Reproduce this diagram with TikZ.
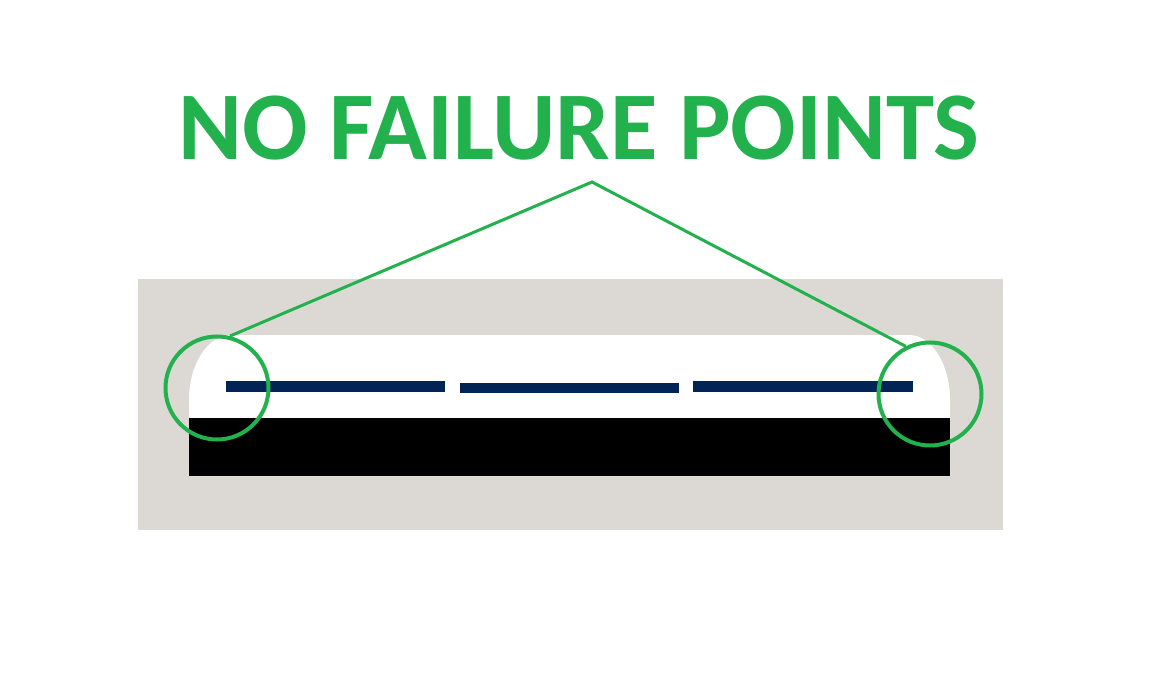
\documentclass[tikz,border=0pt]{standalone}
\usepackage{fontspec}
\setmainfont{Carlito}
\definecolor{pgreen}{HTML}{22B14C}
\definecolor{pgray}{HTML}{DCD9D4}
\definecolor{pnavy}{HTML}{002456}
\tikzset{
  ring/.style={circle, draw=pgreen, line width=4pt, minimum size=103pt, inner sep=0pt},
  leader/.style={draw=pgreen, line width=3pt},
  dashbar/.style={fill=pnavy, draw=none},
}
\begin{document}
\begin{tikzpicture}[x=1pt,y=-1pt]
\useasboundingbox (0,0) rectangle (1163,682);
\fill[white] (0,0) rectangle (1163,682);
% gray frame
\fill[pgray] (138,279) rectangle (1003,530);
% white cavity with rounded top corners
\fill[white] (189,476) -- (189,400) arc[start angle=180, end angle=90, x radius=42pt, y radius=65pt]
  -- (909,335) arc[start angle=90, end angle=0, x radius=41pt, y radius=65pt] -- (950,476) -- cycle;
% black base
\fill[black] (189,418) rectangle (950,476);
% navy dashes
\fill[dashbar] (226,381) rectangle (445,392);
\fill[dashbar] (460,383) rectangle (679,393);
\fill[dashbar] (693,381) rectangle (913,392);
% title
\node[text=pgreen, font=\bfseries\fontsize{97}{97}\selectfont, inner sep=0pt] (title) at (579,128) {NO FAILURE POINTS};
\coordinate (apex) at (592,182);
% rings
\node[ring] (lc) at (217,388) {};
\node[ring] (rc) at (930,394) {};
\draw[leader] (lc.76) -- (apex) -- (rc.117);
\end{tikzpicture}
\end{document}
